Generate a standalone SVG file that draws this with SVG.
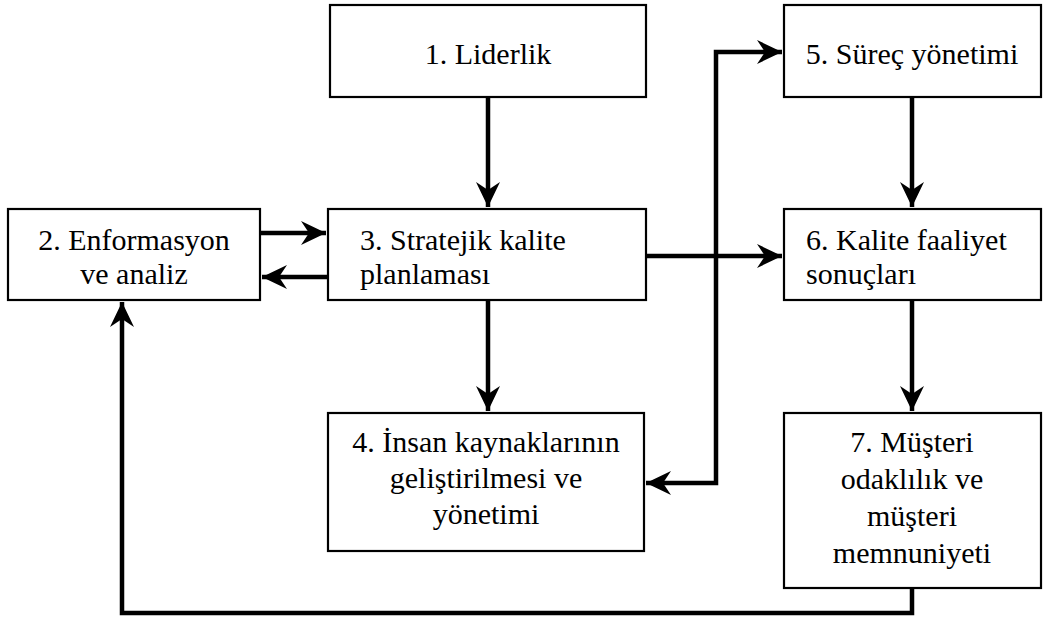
<svg xmlns="http://www.w3.org/2000/svg" width="1048" height="620" viewBox="0 0 1048 620">
  <style>
    .box { fill: #ffffff; stroke: #000000; stroke-width: 2.2; }
    .lbl { font-family: "Liberation Serif", "Times New Roman", serif; font-size: 30px; fill: #000000; }
    .mid { text-anchor: middle; }
    .link { fill: none; stroke: #000000; stroke-width: 4.5; stroke-linejoin: miter; }
  </style>
  <defs>
    <marker id="head" viewBox="-26 -13 28 26" refX="0" refY="0" markerWidth="28" markerHeight="26" markerUnits="userSpaceOnUse" orient="auto-start-reverse">
      <path d="M0,0 L-25,-12 L-17,0 L-25,12 Z" fill="#000000"/>
    </marker>
  </defs>

  <rect width="1048" height="620" fill="#ffffff"/>

  <!-- connectors -->
  <g id="connectors">
    <path class="link" d="M488,97 V207" marker-end="url(#head)"/>
    <path class="link" d="M260,233 H326" marker-end="url(#head)"/>
    <path class="link" d="M328,277 H262" marker-end="url(#head)"/>
    <path class="link" d="M646,256 H782" marker-end="url(#head)"/>
    <path class="link" d="M488,300 V411" marker-end="url(#head)"/>
    <path class="link" d="M646,483 H716 V52 H782" marker-start="url(#head)" marker-end="url(#head)"/>
    <path class="link" d="M912,97 V207" marker-end="url(#head)"/>
    <path class="link" d="M912,300 V411" marker-end="url(#head)"/>
    <path class="link" d="M912,588 V613 H122 V302" marker-end="url(#head)"/>
  </g>

  <!-- 1. Liderlik -->
  <g id="n1">
    <rect class="box" x="330" y="5" width="316" height="92"/>
    <text class="lbl mid" x="488" y="64">1. Liderlik</text>
  </g>

  <!-- 2. Enformasyon ve analiz -->
  <g id="n2">
    <rect class="box" x="8" y="209" width="252" height="91"/>
    <text class="lbl mid" x="134" y="250">2. Enformasyon</text>
    <text class="lbl mid" x="134" y="284">ve analiz</text>
  </g>

  <!-- 3. Stratejik kalite planlaması -->
  <g id="n3">
    <rect class="box" x="328" y="209" width="318" height="91"/>
    <text class="lbl" x="360" y="250">3. Stratejik kalite</text>
    <text class="lbl" x="360" y="284">planlaması</text>
  </g>

  <!-- 4. İnsan kaynaklarının geliştirilmesi ve yönetimi -->
  <g id="n4">
    <rect class="box" x="328" y="413" width="316" height="138"/>
    <text class="lbl mid" x="486" y="452">4. İnsan kaynaklarının</text>
    <text class="lbl mid" x="486" y="488">geliştirilmesi ve</text>
    <text class="lbl mid" x="486" y="524">yönetimi</text>
  </g>

  <!-- 5. Süreç yönetimi -->
  <g id="n5">
    <rect class="box" x="784" y="5" width="257" height="92"/>
    <text class="lbl mid" x="912" y="64">5. Süreç yönetimi</text>
  </g>

  <!-- 6. Kalite faaliyet sonuçları -->
  <g id="n6">
    <rect class="box" x="784" y="209" width="257" height="91"/>
    <text class="lbl" x="806" y="250">6. Kalite faaliyet</text>
    <text class="lbl" x="806" y="284">sonuçları</text>
  </g>

  <!-- 7. Müşteri odaklılık ve müşteri memnuniyeti -->
  <g id="n7">
    <rect class="box" x="784" y="413" width="257" height="175"/>
    <text class="lbl mid" x="912" y="452">7. Müşteri</text>
    <text class="lbl mid" x="912" y="489">odaklılık ve</text>
    <text class="lbl mid" x="912" y="526">müşteri</text>
    <text class="lbl mid" x="912" y="563">memnuniyeti</text>
  </g>
</svg>
